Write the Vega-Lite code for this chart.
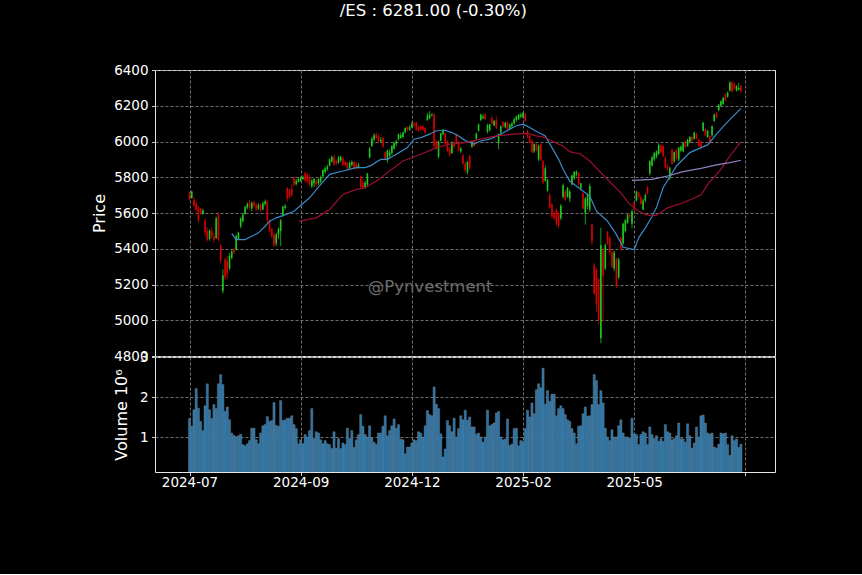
{
"$schema": "https://vega.github.io/schema/vega-lite/v6.json",
"background": "#000000",
"padding": {"left": 91, "top": 3, "right": 86, "bottom": 84},
"title": {"text": "/ES : 6281.00 (-0.30%)", "color": "#ffffff", "font": "DejaVu Sans", "fontSize": 16.5, "fontWeight": "normal", "anchor": "middle", "offset": 43},
"bounds": "flush",
"spacing": 1,
"datasets": {
"ohlc": [
{"i":0,"o":5710,"h":5720,"l":5670,"c":5680,"v":1.46},
{"i":1,"o":5685,"h":5725,"l":5680,"c":5720,"v":1.27},
{"i":2,"o":5676,"h":5690,"l":5630,"c":5640,"v":1.68},
{"i":3,"o":5650,"h":5670,"l":5605,"c":5615,"v":2.21},
{"i":4,"o":5630,"h":5640,"l":5545,"c":5560,"v":1.72},
{"i":5,"o":5625,"h":5630,"l":5590,"c":5600,"v":1.39},
{"i":6,"o":5595,"h":5625,"l":5590,"c":5615,"v":1.16},
{"i":7,"o":5560,"h":5570,"l":5470,"c":5490,"v":1.78},
{"i":8,"o":5500,"h":5520,"l":5440,"c":5450,"v":2.33},
{"i":9,"o":5455,"h":5510,"l":5445,"c":5500,"v":1.68},
{"i":10,"o":5500,"h":5520,"l":5455,"c":5470,"v":1.46},
{"i":11,"o":5470,"h":5490,"l":5435,"c":5450,"v":1.81},
{"i":12,"o":5460,"h":5580,"l":5455,"c":5570,"v":1.71},
{"i":13,"o":5595,"h":5605,"l":5440,"c":5450,"v":2.33},
{"i":14,"o":5420,"h":5425,"l":5320,"c":5335,"v":2.56},
{"i":15,"o":5165,"h":5285,"l":5150,"c":5250,"v":2.31},
{"i":16,"o":5340,"h":5350,"l":5225,"c":5240,"v":1.64},
{"i":17,"o":5330,"h":5360,"l":5230,"c":5260,"v":1.75},
{"i":18,"o":5290,"h":5375,"l":5280,"c":5360,"v":1.43},
{"i":19,"o":5350,"h":5395,"l":5340,"c":5385,"v":1.10},
{"i":20,"o":5395,"h":5405,"l":5370,"c":5380,"v":1.04},
{"i":21,"o":5395,"h":5480,"l":5390,"c":5470,"v":1.01},
{"i":22,"o":5455,"h":5495,"l":5450,"c":5490,"v":1.03},
{"i":23,"o":5525,"h":5575,"l":5515,"c":5570,"v":1.07},
{"i":24,"o":5555,"h":5600,"l":5545,"c":5590,"v":0.81},
{"i":25,"o":5595,"h":5640,"l":5590,"c":5635,"v":0.78},
{"i":26,"o":5630,"h":5660,"l":5620,"c":5650,"v":0.83},
{"i":27,"o":5660,"h":5670,"l":5620,"c":5630,"v":0.91},
{"i":28,"o":5625,"h":5665,"l":5610,"c":5655,"v":1.22},
{"i":29,"o":5660,"h":5670,"l":5630,"c":5640,"v":1.22},
{"i":30,"o":5645,"h":5655,"l":5610,"c":5620,"v":0.93},
{"i":31,"o":5625,"h":5655,"l":5615,"c":5645,"v":0.83},
{"i":32,"o":5645,"h":5655,"l":5605,"c":5615,"v":1.10},
{"i":33,"o":5620,"h":5665,"l":5615,"c":5655,"v":1.28},
{"i":34,"o":5650,"h":5675,"l":5640,"c":5665,"v":1.31},
{"i":35,"o":5665,"h":5670,"l":5550,"c":5560,"v":1.51},
{"i":36,"o":5555,"h":5565,"l":5490,"c":5500,"v":1.39},
{"i":37,"o":5510,"h":5520,"l":5460,"c":5470,"v":1.41},
{"i":38,"o":5480,"h":5490,"l":5410,"c":5420,"v":1.86},
{"i":39,"o":5430,"h":5490,"l":5415,"c":5480,"v":1.29},
{"i":40,"o":5480,"h":5520,"l":5455,"c":5510,"v":1.27},
{"i":41,"o":5500,"h":5565,"l":5415,"c":5560,"v":1.91},
{"i":42,"o":5585,"h":5640,"l":5580,"c":5635,"v":1.41},
{"i":43,"o":5630,"h":5650,"l":5620,"c":5640,"v":1.43},
{"i":44,"o":5740,"h":5745,"l":5665,"c":5680,"v":1.47},
{"i":45,"o":5730,"h":5735,"l":5680,"c":5690,"v":1.47},
{"i":46,"o":5735,"h":5760,"l":5690,"c":5700,"v":1.53},
{"i":47,"o":5800,"h":5805,"l":5750,"c":5760,"v":1.31},
{"i":48,"o":5760,"h":5790,"l":5755,"c":5780,"v":1.21},
{"i":49,"o":5775,"h":5800,"l":5770,"c":5790,"v":0.83},
{"i":50,"o":5780,"h":5805,"l":5775,"c":5795,"v":0.93},
{"i":51,"o":5790,"h":5810,"l":5785,"c":5800,"v":0.83},
{"i":52,"o":5825,"h":5830,"l":5770,"c":5780,"v":1.06},
{"i":53,"o":5815,"h":5825,"l":5765,"c":5775,"v":1.00},
{"i":54,"o":5800,"h":5815,"l":5750,"c":5760,"v":1.16},
{"i":55,"o":5750,"h":5790,"l":5740,"c":5780,"v":1.71},
{"i":56,"o":5765,"h":5795,"l":5745,"c":5790,"v":0.96},
{"i":57,"o":5780,"h":5790,"l":5745,"c":5760,"v":1.13},
{"i":58,"o":5765,"h":5795,"l":5755,"c":5790,"v":1.10},
{"i":59,"o":5775,"h":5810,"l":5765,"c":5800,"v":0.93},
{"i":60,"o":5805,"h":5845,"l":5795,"c":5840,"v":0.83},
{"i":61,"o":5830,"h":5860,"l":5820,"c":5850,"v":0.91},
{"i":62,"o":5845,"h":5870,"l":5835,"c":5860,"v":0.83},
{"i":63,"o":5865,"h":5905,"l":5860,"c":5900,"v":0.81},
{"i":64,"o":5890,"h":5920,"l":5880,"c":5915,"v":0.71},
{"i":65,"o":5910,"h":5925,"l":5865,"c":5870,"v":1.13},
{"i":66,"o":5890,"h":5900,"l":5865,"c":5880,"v":0.72},
{"i":67,"o":5880,"h":5920,"l":5875,"c":5910,"v":0.96},
{"i":68,"o":5895,"h":5920,"l":5885,"c":5915,"v":0.71},
{"i":69,"o":5905,"h":5915,"l":5862,"c":5870,"v":0.85},
{"i":70,"o":5885,"h":5895,"l":5860,"c":5870,"v":0.81},
{"i":71,"o":5880,"h":5885,"l":5840,"c":5845,"v":1.22},
{"i":72,"o":5850,"h":5890,"l":5845,"c":5880,"v":0.96},
{"i":73,"o":5870,"h":5895,"l":5860,"c":5885,"v":1.16},
{"i":74,"o":5885,"h":5890,"l":5845,"c":5850,"v":0.74},
{"i":75,"o":5875,"h":5885,"l":5840,"c":5855,"v":0.93},
{"i":76,"o":5855,"h":5880,"l":5850,"c":5870,"v":1.06},
{"i":77,"o":5805,"h":5810,"l":5740,"c":5745,"v":1.56},
{"i":78,"o":5770,"h":5790,"l":5735,"c":5740,"v":1.27},
{"i":79,"o":5745,"h":5780,"l":5735,"c":5770,"v":1.06},
{"i":80,"o":5760,"h":5825,"l":5750,"c":5820,"v":1.00},
{"i":81,"o":5910,"h":5970,"l":5905,"c":5960,"v":1.28},
{"i":82,"o":5975,"h":6025,"l":5970,"c":6015,"v":0.97},
{"i":83,"o":6010,"h":6045,"l":6000,"c":6035,"v":0.87},
{"i":84,"o":6040,"h":6050,"l":6010,"c":6020,"v":0.82},
{"i":85,"o":6030,"h":6040,"l":5995,"c":6000,"v":1.10},
{"i":86,"o":6000,"h":6025,"l":5990,"c":6010,"v":1.10},
{"i":87,"o":6020,"h":6025,"l":5965,"c":5970,"v":1.27},
{"i":88,"o":5940,"h":5945,"l":5895,"c":5900,"v":1.53},
{"i":89,"o":5895,"h":5955,"l":5880,"c":5950,"v":1.03},
{"i":90,"o":5920,"h":5955,"l":5910,"c":5940,"v":1.16},
{"i":91,"o":5935,"h":5980,"l":5925,"c":5975,"v":1.28},
{"i":92,"o":5960,"h":6000,"l":5955,"c":5990,"v":1.45},
{"i":93,"o":5985,"h":6010,"l":5975,"c":6000,"v":1.22},
{"i":94,"o":6012,"h":6045,"l":6005,"c":6040,"v":1.31},
{"i":95,"o":6020,"h":6050,"l":6015,"c":6035,"v":0.95},
{"i":96,"o":6025,"h":6055,"l":6018,"c":6050,"v":0.93},
{"i":97,"o":6050,"h":6080,"l":6045,"c":6075,"v":0.58},
{"i":98,"o":6080,"h":6085,"l":6055,"c":6065,"v":0.75},
{"i":99,"o":6065,"h":6090,"l":6060,"c":6080,"v":0.75},
{"i":100,"o":6080,"h":6110,"l":6075,"c":6100,"v":0.85},
{"i":101,"o":6100,"h":6110,"l":6080,"c":6090,"v":0.93},
{"i":102,"o":6105,"h":6110,"l":6060,"c":6065,"v":0.91},
{"i":103,"o":6080,"h":6090,"l":6055,"c":6060,"v":1.13},
{"i":104,"o":6085,"h":6090,"l":6060,"c":6070,"v":1.10},
{"i":105,"o":6085,"h":6095,"l":6060,"c":6065,"v":1.00},
{"i":106,"o":6075,"h":6080,"l":6045,"c":6050,"v":1.28},
{"i":107,"o":6120,"h":6160,"l":6115,"c":6145,"v":1.66},
{"i":108,"o":6130,"h":6170,"l":6125,"c":6150,"v":1.56},
{"i":109,"o":6145,"h":6160,"l":6140,"c":6150,"v":1.53},
{"i":110,"o":6150,"h":6160,"l":5965,"c":5975,"v":2.25},
{"i":111,"o":6000,"h":6010,"l":5955,"c":5960,"v":1.82},
{"i":112,"o":5915,"h":6005,"l":5905,"c":6000,"v":1.71},
{"i":113,"o":6005,"h":6050,"l":6000,"c":6045,"v":1.08},
{"i":114,"o":6040,"h":6070,"l":6035,"c":6065,"v":0.50},
{"i":115,"o":6045,"h":6050,"l":5985,"c":5990,"v":0.70},
{"i":116,"o":6000,"h":6005,"l":5940,"c":5950,"v":1.41},
{"i":117,"o":5960,"h":5970,"l":5915,"c":5925,"v":1.28},
{"i":118,"o":5935,"h":6000,"l":5930,"c":5990,"v":1.13},
{"i":119,"o":5990,"h":6005,"l":5960,"c":5970,"v":1.47},
{"i":120,"o":6040,"h":6045,"l":5995,"c":6000,"v":1.00},
{"i":121,"o":6000,"h":6005,"l":5945,"c":5950,"v":1.21},
{"i":122,"o":5945,"h":5970,"l":5935,"c":5960,"v":1.53},
{"i":123,"o":5920,"h":5935,"l":5870,"c":5875,"v":1.43},
{"i":124,"o":5875,"h":5885,"l":5820,"c":5840,"v":1.67},
{"i":125,"o":5830,"h":5890,"l":5815,"c":5885,"v":1.42},
{"i":126,"o":5920,"h":5925,"l":5845,"c":5850,"v":1.50},
{"i":127,"o":5970,"h":6005,"l":5965,"c":6000,"v":1.25},
{"i":128,"o":6000,"h":6005,"l":5970,"c":5975,"v":1.25},
{"i":129,"o":6015,"h":6050,"l":6010,"c":6045,"v":1.07},
{"i":130,"o":6060,"h":6100,"l":6055,"c":6095,"v":1.10},
{"i":131,"o":6120,"h":6155,"l":6115,"c":6150,"v":1.00},
{"i":132,"o":6130,"h":6155,"l":6125,"c":6140,"v":0.87},
{"i":133,"o":6150,"h":6160,"l":6120,"c":6125,"v":1.00},
{"i":134,"o":6055,"h":6100,"l":6045,"c":6090,"v":1.67},
{"i":135,"o":6065,"h":6100,"l":6055,"c":6095,"v":1.28},
{"i":136,"o":6130,"h":6145,"l":6095,"c":6100,"v":1.31},
{"i":137,"o":6090,"h":6120,"l":6085,"c":6115,"v":1.35},
{"i":138,"o":6120,"h":6140,"l":6070,"c":6075,"v":1.60},
{"i":139,"o":5990,"h":6045,"l":5957,"c":6040,"v":1.64},
{"i":140,"o":6050,"h":6090,"l":6040,"c":6085,"v":1.00},
{"i":141,"o":6110,"h":6115,"l":6075,"c":6085,"v":0.93},
{"i":142,"o":6080,"h":6110,"l":6075,"c":6105,"v":0.95},
{"i":143,"o":6105,"h":6115,"l":6060,"c":6065,"v":1.45},
{"i":144,"o":6070,"h":6100,"l":6065,"c":6095,"v":0.79},
{"i":145,"o":6085,"h":6110,"l":6075,"c":6100,"v":0.82},
{"i":146,"o":6100,"h":6135,"l":6095,"c":6125,"v":1.21},
{"i":147,"o":6120,"h":6145,"l":6110,"c":6140,"v":1.22},
{"i":148,"o":6125,"h":6155,"l":6120,"c":6150,"v":0.78},
{"i":149,"o":6140,"h":6160,"l":6130,"c":6150,"v":0.91},
{"i":150,"o":6135,"h":6165,"l":6130,"c":6160,"v":0.89},
{"i":151,"o":6155,"h":6160,"l":6110,"c":6115,"v":1.21},
{"i":152,"o":6060,"h":6065,"l":6020,"c":6025,"v":1.67},
{"i":153,"o":6030,"h":6035,"l":5990,"c":5995,"v":1.50},
{"i":154,"o":6005,"h":6010,"l":5935,"c":5940,"v":1.85},
{"i":155,"o":5945,"h":5990,"l":5935,"c":5985,"v":1.58},
{"i":156,"o":5985,"h":5990,"l":5945,"c":5950,"v":2.18},
{"i":157,"o":5900,"h":5985,"l":5890,"c":5975,"v":2.33},
{"i":158,"o":5985,"h":5990,"l":5890,"c":5895,"v":2.23},
{"i":159,"o":5890,"h":5895,"l":5760,"c":5770,"v":2.72},
{"i":160,"o":5780,"h":5865,"l":5775,"c":5850,"v":1.82},
{"i":161,"o":5725,"h":5790,"l":5720,"c":5785,"v":2.16},
{"i":162,"o":5700,"h":5710,"l":5625,"c":5630,"v":1.89},
{"i":163,"o":5650,"h":5655,"l":5570,"c":5580,"v":2.07},
{"i":164,"o":5600,"h":5610,"l":5560,"c":5570,"v":2.07},
{"i":165,"o":5620,"h":5625,"l":5530,"c":5540,"v":1.53},
{"i":166,"o":5600,"h":5610,"l":5515,"c":5530,"v":1.71},
{"i":167,"o":5570,"h":5650,"l":5560,"c":5640,"v":1.78},
{"i":168,"o":5690,"h":5765,"l":5680,"c":5755,"v":1.71},
{"i":169,"o":5720,"h":5730,"l":5665,"c":5675,"v":1.56},
{"i":170,"o":5690,"h":5745,"l":5685,"c":5740,"v":1.43},
{"i":171,"o":5680,"h":5730,"l":5660,"c":5720,"v":1.39},
{"i":172,"o":5760,"h":5815,"l":5755,"c":5810,"v":1.21},
{"i":173,"o":5795,"h":5835,"l":5785,"c":5830,"v":1.10},
{"i":174,"o":5815,"h":5840,"l":5805,"c":5830,"v":0.83},
{"i":175,"o":5825,"h":5830,"l":5750,"c":5760,"v":1.27},
{"i":176,"o":5740,"h":5770,"l":5725,"c":5765,"v":1.28},
{"i":177,"o":5710,"h":5715,"l":5620,"c":5625,"v":1.58},
{"i":178,"o":5600,"h":5690,"l":5535,"c":5680,"v":1.75},
{"i":179,"o":5640,"h":5710,"l":5620,"c":5700,"v":1.52},
{"i":180,"o":5620,"h":5765,"l":5605,"c":5750,"v":1.53},
{"i":181,"o":5535,"h":5540,"l":5420,"c":5440,"v":1.81},
{"i":182,"o":5310,"h":5320,"l":5140,"c":5150,"v":2.56},
{"i":183,"o":5280,"h":5295,"l":5049,"c":5090,"v":2.41},
{"i":184,"o":5230,"h":5236,"l":4974,"c":5000,"v":1.81},
{"i":185,"o":4900,"h":5517,"l":4871,"c":5420,"v":2.16},
{"i":186,"o":5390,"h":5405,"l":4993,"c":5250,"v":1.85},
{"i":187,"o":5290,"h":5430,"l":5280,"c":5420,"v":1.22},
{"i":188,"o":5495,"h":5500,"l":5420,"c":5430,"v":1.00},
{"i":189,"o":5460,"h":5470,"l":5365,"c":5380,"v":0.91},
{"i":190,"o":5380,"h":5390,"l":5290,"c":5300,"v":1.18},
{"i":191,"o":5290,"h":5390,"l":5274,"c":5380,"v":1.00},
{"i":192,"o":5345,"h":5350,"l":5180,"c":5190,"v":1.00},
{"i":193,"o":5240,"h":5350,"l":5230,"c":5340,"v":1.28},
{"i":194,"o":5460,"h":5470,"l":5390,"c":5400,"v":1.43},
{"i":195,"o":5430,"h":5545,"l":5420,"c":5540,"v":1.10},
{"i":196,"o":5500,"h":5565,"l":5490,"c":5560,"v":1.00},
{"i":197,"o":5545,"h":5595,"l":5540,"c":5590,"v":1.00},
{"i":198,"o":5590,"h":5600,"l":5570,"c":5580,"v":0.97},
{"i":199,"o":5540,"h":5620,"l":5515,"c":5610,"v":1.47},
{"i":200,"o":5655,"h":5660,"l":5610,"c":5620,"v":1.08},
{"i":201,"o":5670,"h":5725,"l":5665,"c":5720,"v":1.06},
{"i":202,"o":5715,"h":5720,"l":5680,"c":5690,"v":0.81},
{"i":203,"o":5690,"h":5700,"l":5645,"c":5650,"v":1.06},
{"i":204,"o":5620,"h":5680,"l":5615,"c":5670,"v":1.13},
{"i":205,"o":5670,"h":5710,"l":5660,"c":5700,"v":1.10},
{"i":206,"o":5745,"h":5750,"l":5700,"c":5710,"v":0.81},
{"i":207,"o":5820,"h":5895,"l":5810,"c":5890,"v":1.25},
{"i":208,"o":5865,"h":5920,"l":5860,"c":5910,"v":1.06},
{"i":209,"o":5900,"h":5940,"l":5890,"c":5935,"v":0.96},
{"i":210,"o":5915,"h":5950,"l":5905,"c":5945,"v":1.03},
{"i":211,"o":5930,"h":5990,"l":5925,"c":5980,"v":0.89},
{"i":212,"o":5975,"h":5985,"l":5935,"c":5940,"v":0.96},
{"i":213,"o":5975,"h":5980,"l":5910,"c":5920,"v":0.89},
{"i":214,"o":5910,"h":5915,"l":5850,"c":5855,"v":1.31},
{"i":215,"o":5860,"h":5875,"l":5830,"c":5845,"v":1.13},
{"i":216,"o":5795,"h":5860,"l":5785,"c":5850,"v":1.10},
{"i":217,"o":5955,"h":5960,"l":5870,"c":5875,"v":0.93},
{"i":218,"o":5890,"h":5945,"l":5880,"c":5940,"v":0.96},
{"i":219,"o":5955,"h":5960,"l":5895,"c":5910,"v":1.03},
{"i":220,"o":5900,"h":5970,"l":5890,"c":5965,"v":1.35},
{"i":221,"o":5950,"h":5980,"l":5940,"c":5970,"v":0.96},
{"i":222,"o":5945,"h":5995,"l":5940,"c":5990,"v":0.95},
{"i":223,"o":6000,"h":6005,"l":5960,"c":5970,"v":0.87},
{"i":224,"o":5975,"h":6015,"l":5970,"c":6010,"v":1.33},
{"i":225,"o":5995,"h":6030,"l":5990,"c":6025,"v":1.03},
{"i":226,"o":6025,"h":6030,"l":5995,"c":6005,"v":0.72},
{"i":227,"o":6015,"h":6055,"l":6010,"c":6050,"v":0.85},
{"i":228,"o":6040,"h":6050,"l":6010,"c":6015,"v":1.25},
{"i":229,"o":6010,"h":6015,"l":5970,"c":5975,"v":1.00},
{"i":230,"o":6000,"h":6005,"l":5955,"c":5970,"v":1.53},
{"i":231,"o":6060,"h":6110,"l":6055,"c":6105,"v":1.55},
{"i":232,"o":6070,"h":6075,"l":6030,"c":6035,"v":1.35},
{"i":233,"o":6025,"h":6065,"l":6020,"c":6060,"v":1.10},
{"i":234,"o":6030,"h":6035,"l":5985,"c":5990,"v":1.07},
{"i":235,"o":6035,"h":6090,"l":6025,"c":6085,"v":1.10},
{"i":236,"o":6115,"h":6155,"l":6110,"c":6150,"v":0.75},
{"i":237,"o":6160,"h":6165,"l":6130,"c":6135,"v":0.72},
{"i":238,"o":6175,"h":6210,"l":6170,"c":6205,"v":0.82},
{"i":239,"o":6200,"h":6230,"l":6195,"c":6225,"v":1.10},
{"i":240,"o":6210,"h":6250,"l":6205,"c":6245,"v":1.08},
{"i":241,"o":6265,"h":6270,"l":6225,"c":6230,"v":1.10},
{"i":242,"o":6250,"h":6280,"l":6245,"c":6275,"v":0.81},
{"i":243,"o":6285,"h":6335,"l":6280,"c":6330,"v":0.54},
{"i":244,"o":6330,"h":6340,"l":6275,"c":6280,"v":1.03},
{"i":245,"o":6320,"h":6330,"l":6290,"c":6295,"v":0.91},
{"i":246,"o":6285,"h":6315,"l":6280,"c":6310,"v":0.95},
{"i":247,"o":6290,"h":6330,"l":6285,"c":6300,"v":0.74},
{"i":248,"o":6310,"h":6315,"l":6275,"c":6281,"v":0.82}
],
"ma20": [
{"i":19,"v":5485},{"i":21,"v":5451},{"i":25,"v":5451},{"i":28,"v":5470},{"i":31,"v":5489},{"i":34,"v":5526},{"i":36,"v":5554},{"i":39,"v":5573},{"i":42,"v":5585},{"i":47,"v":5610},{"i":54,"v":5685},{"i":59,"v":5760},{"i":63,"v":5816},{"i":69,"v":5835},{"i":75,"v":5854},{"i":79,"v":5854},{"i":82,"v":5868},{"i":84,"v":5885},{"i":86,"v":5900},{"i":89,"v":5900},{"i":93,"v":5929},{"i":98,"v":5966},{"i":101,"v":6013},{"i":104,"v":6022},{"i":108,"v":6041},{"i":111,"v":6060},{"i":115,"v":6063},{"i":118,"v":6050},{"i":121,"v":6031},{"i":124,"v":6005},{"i":128,"v":5985},{"i":131,"v":6003},{"i":135,"v":6013},{"i":140,"v":6041},{"i":144,"v":6069},{"i":147,"v":6088},{"i":150,"v":6097},{"i":153,"v":6078},{"i":157,"v":6050},{"i":160,"v":6031},{"i":163,"v":5966},{"i":166,"v":5900},{"i":168,"v":5845},{"i":171,"v":5779},{"i":176,"v":5732},{"i":180,"v":5695},{"i":183,"v":5610},{"i":188,"v":5554},{"i":192,"v":5479},{"i":195,"v":5408},{"i":200,"v":5395},{"i":202,"v":5461},{"i":205,"v":5517},{"i":208,"v":5580},{"i":210,"v":5630},{"i":213,"v":5741},{"i":219,"v":5863},{"i":225,"v":5938},{"i":230,"v":5966},{"i":233,"v":5981},{"i":237,"v":6041},{"i":241,"v":6097},{"i":248,"v":6185}
],
"ma50": [
{"i":49,"v":5554},{"i":57,"v":5573},{"i":63,"v":5620},{"i":69,"v":5704},{"i":75,"v":5732},{"i":79,"v":5741},{"i":82,"v":5765},{"i":84,"v":5778},{"i":89,"v":5826},{"i":96,"v":5891},{"i":104,"v":5929},{"i":111,"v":5966},{"i":117,"v":5985},{"i":124,"v":5994},{"i":131,"v":6013},{"i":138,"v":6031},{"i":146,"v":6041},{"i":152,"v":6045},{"i":156,"v":6031},{"i":160,"v":6022},{"i":165,"v":5990},{"i":168,"v":5975},{"i":171,"v":5943},{"i":176,"v":5929},{"i":180,"v":5891},{"i":185,"v":5826},{"i":189,"v":5775},{"i":194,"v":5713},{"i":198,"v":5648},{"i":202,"v":5610},{"i":205,"v":5592},{"i":208,"v":5584},{"i":210,"v":5588},{"i":215,"v":5629},{"i":222,"v":5657},{"i":230,"v":5700},{"i":233,"v":5760},{"i":239,"v":5844},{"i":243,"v":5919},{"i":248,"v":5998}
],
"ma200": [
{"i":199,"v":5783},{"i":208,"v":5788},{"i":215,"v":5807},{"i":222,"v":5831},{"i":230,"v":5850},{"i":237,"v":5869},{"i":243,"v":5882},{"i":248,"v":5895}
],
"mark": [{"label": "@Pynvestment"}]
},
"vconcat": [
{
"width": 620, "height": 286,
"layer": [
{"data": {"name": "ohlc"}, "mark": {"type": "rule", "strokeWidth": 0.8},
"encoding": {
"x": {"field": "i", "type": "quantitative", "scale": {"domain": [-13.27, 261.06], "nice": false, "zero": false}, "axis": {"values": [0, 50, 100, 150, 200, 250], "tickCount": 20, "labels": false, "ticks": false, "title": null}},
"y": {"field": "l", "type": "quantitative", "scale": {"domain": [4800, 6400], "nice": false, "zero": false}, "axis": {"values": [4800, 5000, 5200, 5400, 5600, 5800, 6000, 6200, 6400], "tickCount": 20, "format": "d", "labelOverlap": false, "title": "Price", "titlePadding": 6}},
"y2": {"field": "h"},
"color": {"condition": {"test": "datum.c >= datum.o", "value": "#1ec81e"}, "value": "#d40000"}
}},
{"data": {"name": "ohlc"}, "mark": {"type": "bar", "width": 1.6},
"encoding": {
"x": {"field": "i", "type": "quantitative"},
"y": {"field": "o", "type": "quantitative"},
"y2": {"field": "c"},
"color": {"condition": {"test": "datum.c >= datum.o", "value": "#1ec81e"}, "value": "#d40000"}
}},
{"data": {"name": "ma20"}, "mark": {"type": "line", "color": "#3a89c9", "strokeWidth": 1.2},
"encoding": {"x": {"field": "i", "type": "quantitative"}, "y": {"field": "v", "type": "quantitative"}}},
{"data": {"name": "ma50"}, "mark": {"type": "line", "color": "#9e0f2e", "strokeWidth": 1.2},
"encoding": {"x": {"field": "i", "type": "quantitative"}, "y": {"field": "v", "type": "quantitative"}}},
{"data": {"name": "ma200"}, "mark": {"type": "line", "color": "#8f80c0", "strokeWidth": 1.2},
"encoding": {"x": {"field": "i", "type": "quantitative"}, "y": {"field": "v", "type": "quantitative"}}},
{"data": {"name": "mark"}, "mark": {"type": "text", "fill": "#6b6b6b", "font": "DejaVu Sans", "fontSize": 16.5, "align": "center", "baseline": "middle"},
"encoding": {"text": {"field": "label"}, "x": {"datum": 108.2, "type": "quantitative"}, "y": {"datum": 5187, "type": "quantitative"}}}
]
},
{
"width": 620, "height": 115,
"data": {"name": "ohlc"},
"mark": {"type": "bar", "width": 2.1, "fill": "#1f77b4", "stroke": "#808080", "strokeWidth": 0.45, "clip": true},
"encoding": {
"x": {"field": "i", "type": "quantitative", "scale": {"domain": [-13.27, 261.06], "nice": false, "zero": false}, "axis": {"values": [0, 50, 100, 150, 200, 250], "tickCount": 20, "title": null, "labelFlush": false, "labelOverlap": false, "labelPadding": 0, "labelExpr": "datum.value == 0 ? '2024-07' : datum.value == 50 ? '2024-09' : datum.value == 100 ? '2024-12' : datum.value == 150 ? '2025-02' : datum.value == 200 ? '2025-05' : ''"}},
"y": {"field": "v", "type": "quantitative", "scale": {"domain": [0.125, 3], "nice": false, "zero": false}, "axis": {"values": [1, 2, 3], "tickCount": 10, "format": "d", "labelOverlap": false, "title": "Volume  10⁶", "titlePadding": 10}}
}
}
],
"config": {
"font": "DejaVu Sans",
"view": {"stroke": "#e6e6e6", "strokeWidth": 1},
"axis": {"labelColor": "#ffffff", "labelFont": "DejaVu Sans", "labelFontSize": 13.5, "tickColor": "#ffffff", "tickSize": 3.5, "tickWidth": 0.8, "labelPadding": 3.5, "domain": false, "grid": true, "gridColor": "#8c8c8c", "gridDash": [3, 2], "gridWidth": 0.8, "titleColor": "#ffffff", "titleFont": "DejaVu Sans", "titleFontSize": 16, "titleFontWeight": "normal"}
}
}
